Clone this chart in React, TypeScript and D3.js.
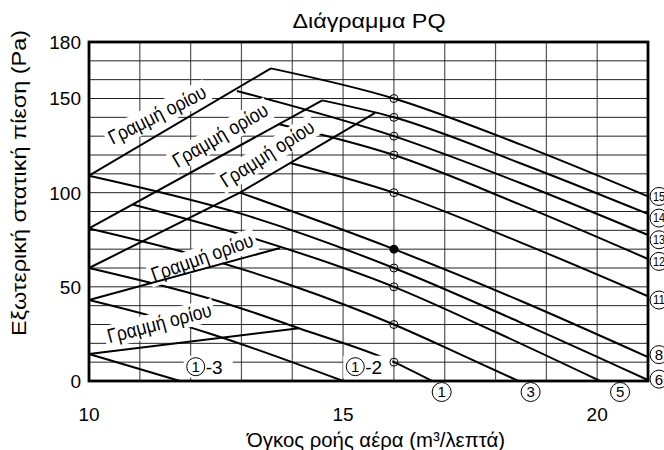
import React from "react";
import * as d3 from "d3";

const W = 664;
const H = 450;

// axes
const xDomain = [10, 21];
const yDomain = [0, 180];
const xTickValues = [10, 15, 20];
const yTickValues = [0, 50, 100, 150, 180];
const xGridValues = [11, 12, 13, 14, 15, 16, 17, 18, 19, 20];
const yGridValues = [10, 20, 30, 40, 50, 60, 70, 80, 90, 100, 110, 120, 130, 140, 150, 160, 170];

// fan curves (Q in m3/min, P in Pa)
const c15Q = [13.58, 16, 18.5, 21];
const c15P = [166, 150, 125.5, 98];
const c14Q = [14.59, 16, 18.5, 21];
const c14P = [149, 140, 115.5, 88.7];
const c13Q = [12.91, 16, 18.5, 21];
const c13P = [154, 130, 105, 77.5];
const c12Q = [13.72, 16, 18.5, 21];
const c12P = [136.5, 120, 93.5, 64.8];
const c11Q = [13.96, 16, 18.5, 21];
const c11P = [115.8, 100, 73.5, 45];
const c8Q = [12.97, 16, 18.5, 21];
const c8P = [100, 70, 42.5, 12.7];
const c6Q = [10, 12.97, 16, 18.5, 21];
const c6P = [109, 89, 60, 31, 0.5];
const c5Q = [10.86, 13.23, 16, 18, 20.06];
const c5P = [93.7, 75.8, 50, 26, 0];
const c3Q = [10, 11.79, 13.96, 16, 17.2, 18.45];
const c3P = [81, 69, 51, 30, 15.5, 0];
const c1Q = [10, 12.97, 14.13, 16, 16.75];
const c1P = [60, 38.8, 28, 10, 0];
const c1_2Q = [10, 11.36, 12.34, 15];
const c1_2P = [43, 33.5, 25.5, 0];
const c1_3Q = [10, 11.79];
const c1_3P = [14.3, 0];

// limit lines
const ll1Q = [10, 13.58];
const ll1P = [109, 166];
const ll2Q = [10, 14.59];
const ll2P = [81, 149];
const ll3Q = [10, 12.97, 15.63];
const ll3P = [60, 100, 142.4];
const ll4Q = [10, 13.76];
const ll4P = [43, 70.6];
const ll5Q = [10, 14.13];
const ll5P = [14.3, 28];

// limit line labels (baseline start Q, P, angle in degrees)
const limitLabelText = "Γραμμή ορίου";
const limitLabelQ = [10.46, 11.74, 12.69, 11.28, 10.4];
const limitLabelP = [125.3, 113, 102.3, 52.7, 20];
const limitLabelAngle = [26.8, 30.3, 32.5, 19.6, 14.7];

// operating points at Q = 16
const pointQ = 16;
const openPointP = [150, 140, 130, 120, 100, 60, 50, 30, 10];
const filledPointP = [70];

// curve id labels
const rightLabelIds = ["15", "14", "13", "12", "11", "8", "6"];
const rightLabelP = [98, 86.5, 75, 63.5, 43, 14, 1];
const bottomLabelIds = ["1", "3", "5"];
const bottomLabelQ = [16.94, 18.69, 20.45];
const innerLabelIds = ["-3", "-2"];
const innerLabelQ = [12.1, 15.24];
const innerLabelP = [7.6, 7.6];

const FONT = "'Liberation Sans', Arial, Helvetica, sans-serif";

const fanCurves: [number[], number[]][] = [
  [c15Q, c15P], [c14Q, c14P], [c13Q, c13P], [c12Q, c12P], [c11Q, c11P], [c8Q, c8P],
  [c6Q, c6P], [c5Q, c5P], [c3Q, c3P], [c1Q, c1P], [c1_2Q, c1_2P], [c1_3Q, c1_3P],
];
const limitLines: [number[], number[]][] = [
  [ll1Q, ll1P], [ll2Q, ll2P], [ll3Q, ll3P], [ll4Q, ll4P], [ll5Q, ll5P],
];

function Circled({ cx, cy, label, r = 9 }: { cx: number; cy: number; label: string; r?: number }) {
  const two = label.length > 1;
  return (
    <g>
      <circle cx={cx} cy={cy} r={r} fill="#fff" stroke="#000" strokeWidth={1} />
      <text
        x={cx}
        y={cy}
        dy="0.36em"
        textAnchor="middle"
        fontSize={two ? 12 : 15}
        fontFamily={FONT}
        {...(two ? { textLength: 12, lengthAdjust: "spacingAndGlyphs" } : {})}
      >
        {label}
      </text>
    </g>
  );
}

export default function App() {
  const x = d3.scaleLinear().domain(xDomain).range([89, 648]);
  const y = d3.scaleLinear().domain(yDomain).range([381, 42]);

  const curveLine = d3
    .line<[number, number]>()
    .x((d) => x(d[0]))
    .y((d) => y(d[1]))
    .curve(d3.curveMonotoneX);
  const straight = d3
    .line<[number, number]>()
    .x((d) => x(d[0]))
    .y((d) => y(d[1]));

  const toPts = (q: number[], p: number[]) => q.map((v, i) => [v, p[i]] as [number, number]);

  return (
    <svg width={W} height={H} style={{ position: "absolute", left: 0, top: 0 }} fontFamily={FONT}>
      <rect x={0} y={0} width={W} height={H} fill="#fff" />
      {/* grid */}
      {xGridValues.map((v) => (
        <line key={"vx" + v} x1={x(v)} x2={x(v)} y1={y(180)} y2={y(0)} stroke="#555" strokeWidth={1.2} />
      ))}
      {yGridValues.map((v) => (
        <line key={"hy" + v} x1={x(10)} x2={x(21)} y1={y(v)} y2={y(v)} stroke="#222" strokeWidth={1} />
      ))}

      {/* fan curves */}
      {fanCurves.map(([q, p], i) => (
        <path key={"fc" + i} d={curveLine(toPts(q, p)) || ""} fill="none" stroke="#000" strokeWidth={2} />
      ))}

      {/* limit line labels with white boxes */}
      {limitLabelQ.map((q, i) => (
        <g key={"ll" + i} transform={`translate(${x(q)},${y(limitLabelP[i])}) rotate(${-limitLabelAngle[i]})`}>
          <rect x={-3} y={-18} width={113} height={23} fill="#fff" />
          <text x={0} y={0} fontSize={20} textLength={107} lengthAdjust="spacingAndGlyphs" fill="#000">
            {limitLabelText}
          </text>
        </g>
      ))}

      {/* limit lines */}
      {limitLines.map(([q, p], i) => (
        <path key={"lim" + i} d={straight(toPts(q, p)) || ""} fill="none" stroke="#000" strokeWidth={2} />
      ))}

      {/* inner labels 1-3, 1-2 */}
      {innerLabelIds.map((s, i) => (
        <g key={"in" + i}>
          <rect x={x(innerLabelQ[i]) - 12} y={y(innerLabelP[i]) - 11} width={49} height={22} fill="#fff" />
          <Circled cx={x(innerLabelQ[i])} cy={y(innerLabelP[i])} label="1" />
          <text x={x(innerLabelQ[i]) + 10} y={y(innerLabelP[i])} dy="0.36em" fontSize={19}>
            {s}
          </text>
        </g>
      ))}

      {/* operating points */}
      {openPointP.map((p) => (
        <circle key={"op" + p} cx={x(pointQ)} cy={y(p)} r={4} fill="none" stroke="#000" strokeWidth={1} />
      ))}
      {filledPointP.map((p) => (
        <circle key={"fp" + p} cx={x(pointQ)} cy={y(p)} r={4.5} fill="#000" />
      ))}

      {/* frame */}
      <rect x={x(10)} y={y(180)} width={x(21) - x(10)} height={y(0) - y(180)} fill="none" stroke="#000" strokeWidth={2.8} />

      {/* right labels */}
      {rightLabelIds.map((s, i) => (
        <Circled key={"rl" + s} cx={659} cy={y(rightLabelP[i])} label={s} r={9} />
      ))}
      {/* bottom labels */}
      {bottomLabelIds.map((s, i) => (
        <Circled key={"bl" + s} cx={x(bottomLabelQ[i])} cy={392} label={s} r={9.5} />
      ))}

      {/* ticks */}
      {yTickValues.map((v) => (
        <text key={"yt" + v} x={81} y={y(v)} dy="0.36em" textAnchor="end" fontSize={19}>
          {v}
        </text>
      ))}
      {xTickValues.map((v) => (
        <text key={"xt" + v} x={x(v)} y={421} textAnchor="middle" fontSize={19}>
          {v}
        </text>
      ))}

      {/* titles */}
      <text x={369} y={28} textAnchor="middle" fontSize={21} textLength={153} lengthAdjust="spacingAndGlyphs">
        Διάγραμμα PQ
      </text>
      <text x={376} y={447} textAnchor="middle" fontSize={20} textLength={258} lengthAdjust="spacingAndGlyphs">
        Όγκος ροής αέρα (m³/λεπτά)
      </text>
      <text
        transform="translate(26,183) rotate(-90)"
        textAnchor="middle"
        fontSize={21}
        textLength={306}
        lengthAdjust="spacingAndGlyphs"
      >
        Εξωτερική στατική πίεση (Pa)
      </text>
    </svg>
  );
}
